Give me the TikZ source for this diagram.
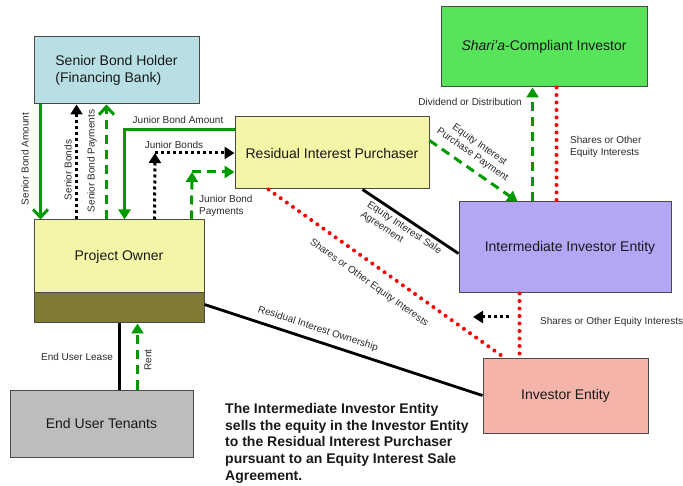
\documentclass[tikz,border=0pt]{standalone}
\usepackage{fontspec}
\setmainfont{Liberation Sans}
\usetikzlibrary{arrows.meta}
\definecolor{boxline}{HTML}{4A4A4A}
\definecolor{lbltext}{HTML}{2A2A2A}
\definecolor{grn}{HTML}{009A00}
\definecolor{sbhfill}{HTML}{B8DFE3}
\definecolor{shfill}{HTML}{57E35A}
\definecolor{ylw}{HTML}{F5F5A8}
\definecolor{olive}{HTML}{7F7A34}
\definecolor{purp}{HTML}{B4A6F5}
\definecolor{salmon}{HTML}{F4B4AA}
\definecolor{gry}{HTML}{BDBDBD}
\tikzset{
  box/.style={draw=boxline, line width=1pt, inner sep=0pt, font=\fontsize{14}{17}\selectfont, align=center, text=black!90},
  lbl/.style={font=\fontsize{10}{12}\selectfont, inner sep=0pt, text=lbltext},
  gsolid/.style={draw=grn, line width=3pt},
  gdash/.style={draw=grn, line width=3pt, dash pattern=on 9pt off 6pt},
  bdot/.style={draw=black, line width=3pt, dash pattern=on 3pt off 3pt},
  rdot/.style={draw=red, line width=4pt, line cap=round, dash pattern=on 0pt off 7.5pt},
  bline/.style={draw=black, line width=2.8pt},
  tri/.style={-{Triangle[length=10pt,width=12pt]}},
  gtri/.style={-{Triangle[length=10pt,width=12pt,fill=grn,color=grn]}},
  barb/.style={-{Straight Barb[length=8pt,width=15pt]}},
}
\begin{document}
\begin{tikzpicture}[x=1pt,y=-1pt]
\useasboundingbox (0,0) rectangle (683,486);
% boxes
\node[box, fill=sbhfill, minimum width=165pt, minimum height=67pt, align=left] (sbh) at (116.5,70.5) {Senior Bond Holder\\(Financing Bank)};
\node[box, fill=shfill, minimum width=206pt, minimum height=80pt] (sh) at (544,47) {\textit{Shari’a}-Compliant Investor};
\node[box, fill=ylw, minimum width=194pt, minimum height=72pt] (rip) at (332,153) {Residual Interest Purchaser};
\node[box, fill=purp, minimum width=212pt, minimum height=91pt] (iie) at (565,247.5) {\hspace{10pt}Intermediate Investor Entity};
\node[box, fill=ylw, minimum width=170pt, minimum height=73pt] (po) at (119,256.5) {Project Owner};
\node[box, fill=olive, minimum width=170pt, minimum height=30pt] (pob) at (119,308) {};
\node[box, fill=salmon, minimum width=165pt, minimum height=74pt] (ie) at (565.5,396) {Investor Entity};
\node[box, fill=gry, minimum width=183pt, minimum height=67pt] (eut) at (101.5,423.5) {End User Tenants};
% coordinates
\coordinate (jbc) at (155,153);
\coordinate (jpc) at (192,172);
\coordinate (bdA) at (509,317);
\coordinate (bdB) at (473,317);
% connectors
\draw[gsolid,barb] ([xshift=7pt]sbh.south west) -- ([xshift=7pt]po.north west);
\draw[bdot,tri] ([xshift=43pt]po.north west) -- ([xshift=43pt]sbh.south west);
\draw[gdash,barb] ([xshift=73pt]po.north west) -- ([xshift=73pt]sbh.south west);
\draw[gsolid,gtri] ([yshift=-13pt]rip.north west) -| ([xshift=91pt]po.north west);
\draw[bdot,tri] ([xshift=121pt]po.north west) -- (jbc);
\draw[bdot,tri] (jbc) -- (jbc -| rip.west);
\draw[gdash,gtri] ([xshift=158pt]po.north west) -- (jpc);
\draw[gdash,gtri] (jpc) -- (jpc -| rip.west);
\draw[gdash,gtri] ([xshift=74pt]iie.north west) -- ([xshift=92pt]sh.south west);
\draw[rdot] ([xshift=116pt]sh.south west) -- ([xshift=98pt]iie.north west);
\draw[gdash,gtri] ([yshift=-24pt]rip.north east) -- ([xshift=59pt]iie.north west);
\draw[bline] ([xshift=128pt]rip.south west) -- ([yshift=-52pt]iie.north west);
\draw[rdot] ([xshift=34pt]rip.south west) -- ([xshift=23pt]ie.north west);
\draw[rdot] ([xshift=61pt]iie.south west) -- ([xshift=37pt]ie.north west);
\draw[bdot,tri] (bdA) -- (bdB);
\draw[bline] ([yshift=-12pt]pob.north east) -- ([yshift=-37pt]ie.north west);
\draw[bline, line width=3.2pt] ([xshift=110pt]eut.north west) -- ([xshift=86pt]pob.south west);
\draw[gdash,gtri] ([xshift=128pt]eut.north west) -- ([xshift=104pt]pob.south west);
% labels
\node[lbl, rotate=90] (l1) at (25,159) {Senior Bond Amount};
\node[lbl, rotate=90] (l2) at (68,170) {Senior Bonds};
\node[lbl, rotate=90] (l3) at (92,161) {Senior Bond Payments};
\node[lbl] (l4) at (178,120) {Junior Bond Amount};
\node[lbl] (l5) at (174,145) {Junior Bonds};
\node[lbl, anchor=west, align=left] (l6) at (199,206) {Junior Bond\\Payments};
\node[lbl, anchor=east] (l7) at (522,102) {Dividend or Distribution};
\node[lbl, anchor=west, align=left] (l8) at (570,147) {Shares or Other\\Equity Interests};
\node[lbl, rotate=-35, align=center] (l9) at (476,150) {Equity Interest\\Purchase Payment};
\node[lbl, rotate=-33.5, align=left] (l10) at (401,233) {Equity Interest Sale\\Agreement};
\node[lbl, rotate=-35.5] (l11) at (369,283) {Shares or Other Equity Interests};
\node[lbl, anchor=west] (l12) at (540,322) {Shares or Other Equity Interests};
\node[lbl, rotate=-18] (l13) at (318,329) {Residual Interest Ownership};
\node[lbl] (l14) at (77,357) {End User Lease};
\node[lbl, rotate=90] (l15) at (148,360) {Rent};
\node[anchor=north west, inner sep=0pt, align=left, font=\fontsize{14}{16.8}\selectfont\bfseries, text=black!90] (note) at (225,403) {The Intermediate Investor Entity\\sells the equity in the Investor Entity\\to the Residual Interest Purchaser\\pursuant to an Equity Interest Sale\\Agreement.};
\end{tikzpicture}
\end{document}
